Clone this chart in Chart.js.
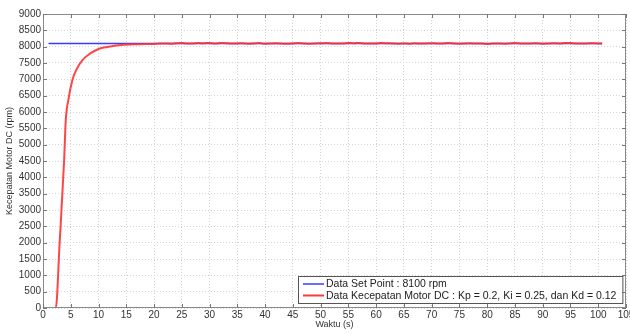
<!DOCTYPE html>
<html>
<head>
<meta charset="utf-8">
<script src="https://cdn.jsdelivr.net/npm/chart.js@4/dist/chart.umd.min.js"></script>
<style>
html,body{margin:0;padding:0;background:#fff;}
#wrap{width:630px;height:333px;position:relative;}
</style>
</head>
<body>
<div id="wrap"><canvas id="c" width="630" height="333"></canvas></div>
<script>
const setPointTime = [1.0, 100.7];
const setPointValue = [8100, 8100];
const motorTime = [1.2, 2.3, 3.0, 3.8, 4.1, 4.6, 5.3, 6.0, 7.1, 8.6, 10.0, 11.6, 14.0, 17.0, 20.0,
  21, 22, 23, 24, 25, 26, 27, 28, 29, 30, 31, 32, 33, 34, 35, 36, 37, 38, 39, 40,
  41, 42, 43, 44, 45, 46, 47, 48, 49, 50, 51, 52, 53, 54, 55, 56, 57, 58, 59, 60,
  61, 62, 63, 64, 65, 66, 67, 68, 69, 70, 71, 72, 73, 74, 75, 76, 77, 78, 79, 80,
  81, 82, 83, 84, 85, 86, 87, 88, 89, 90, 91, 92, 93, 94, 95, 96, 97, 98, 99, 100, 100.7];
const motorSpeed = [0, 0, 2000, 4500, 5750, 6400, 6980, 7290, 7590, 7800, 7930, 7990, 8050, 8075, 8085,
  8095, 8100, 8090, 8105, 8110, 8095, 8100, 8110, 8105, 8112, 8100, 8115, 8105, 8095, 8100, 8108, 8092, 8100, 8110, 8090,
  8100, 8105, 8095, 8088, 8100, 8112, 8100, 8090, 8100, 8105, 8110, 8100, 8095, 8100, 8112, 8105, 8115, 8100, 8095, 8100,
  8110, 8105, 8100, 8092, 8100, 8090, 8105, 8095, 8100, 8108, 8095, 8100, 8110, 8100, 8090, 8100, 8105, 8095, 8100, 8085,
  8095, 8100, 8092, 8100, 8110, 8100, 8095, 8100, 8105, 8090, 8100, 8105, 8100, 8115, 8110, 8100, 8095, 8100, 8105, 8100, 8100];
const xTicks = [0,5,10,15,20,25,30,35,40,45,50,55,60,65,70,75,80,85,90,95,100,105];
const yTicks = [0,500,1000,1500,2000,2500,3000,3500,4000,4500,5000,5500,6000,6500,7000,7500,8000,8500,9000];
const seriesLabels = ['Data Set Point : 8100 rpm', 'Data Kecepatan Motor DC : Kp = 0.2, Ki = 0.25, dan Kd = 0.12'];
const seriesColors = ['#3b3bff', '#ff3838'];

const FONT = "'Liberation Sans', Arial, sans-serif";

const framePlugin = {
  id: 'frame',
  afterDraw(chart) {
    const {ctx, chartArea: a, scales} = chart;
    ctx.save();
    ctx.strokeStyle = '#8a8a8a';
    ctx.lineWidth = 1;
    ctx.strokeRect(a.left + 0.5, a.top + 0.5, a.right - a.left - 1, a.bottom - a.top - 1);
    ctx.strokeStyle = '#777';
    ctx.beginPath();
    const L = 4;
    scales.x.ticks.forEach(t => {
      const px = Math.round(scales.x.getPixelForValue(t.value)) + 0.5;
      ctx.moveTo(px, a.bottom); ctx.lineTo(px, a.bottom - L);
      ctx.moveTo(px, a.top); ctx.lineTo(px, a.top + L);
    });
    scales.y.ticks.forEach(t => {
      const py = Math.round(scales.y.getPixelForValue(t.value)) + 0.5;
      ctx.moveTo(a.left, py); ctx.lineTo(a.left + L, py);
      ctx.moveTo(a.right, py); ctx.lineTo(a.right - L, py);
    });
    ctx.stroke();
    // legend
    ctx.font = '10.5px ' + FONT;
    const tw = Math.max(...seriesLabels.map(s => ctx.measureText(s).width));
    const w = tw + 34, h = 27;
    const bx = Math.round(a.right - 4 - w), by = Math.round(a.bottom - 5 - h);
    ctx.fillStyle = '#fff';
    ctx.fillRect(bx, by, w, h);
    ctx.strokeStyle = '#555';
    ctx.strokeRect(bx + 0.5, by + 0.5, w, h);
    seriesLabels.forEach((s, i) => {
      const y = by + 8 + i * 11.5;
      ctx.strokeStyle = seriesColors[i];
      ctx.lineWidth = i === 0 ? 1.5 : 2;
      ctx.beginPath(); ctx.moveTo(bx + 5, y); ctx.lineTo(bx + 26, y); ctx.stroke();
      ctx.fillStyle = '#222';
      ctx.textBaseline = 'middle';
      ctx.fillText(s, bx + 28, y + 0.5);
    });
    ctx.restore();
  }
};

new Chart(document.getElementById('c'), {
  type: 'scatter',
  data: {
    datasets: [
      {
        label: seriesLabels[0],
        data: setPointTime.map((t, i) => ({x: t, y: setPointValue[i]})),
        borderColor: seriesColors[0], borderWidth: 1.5, showLine: true, pointRadius: 0, order: 1
      },
      {
        label: seriesLabels[1],
        data: motorTime.map((t, i) => ({x: t, y: motorSpeed[i]})),
        borderColor: 'rgba(255,50,50,0.9)', borderWidth: 2, showLine: true, pointRadius: 0,
        cubicInterpolationMode: 'monotone', order: 0
      }
    ]
  },
  options: {
    responsive: false,
    animation: false,
    layout: {padding: {top: 14, right: 4, left: 0, bottom: 0}},
    plugins: {legend: {display: false}, tooltip: {enabled: false}},
    scales: {
      x: {
        type: 'linear', min: 0, max: 105,
        afterBuildTicks(s) { s.ticks = xTicks.map(v => ({value: v})); },
        ticks: {color: '#333', font: {size: 10, family: FONT}, padding: 1, maxRotation: 0, autoSkip: false,
          callback: v => String(v)},
        grid: {color: '#d4d4d4', drawTicks: false, lineWidth: 1},
        border: {display: false, dash: [1, 2]},
        title: {display: true, text: 'Waktu (s)', color: '#333', font: {size: 9, family: FONT}, padding: {top: 0, bottom: 3}},
        afterFit(s) { s.height = 25; s.paddingLeft = 0; s.paddingRight = 0; }
      },
      y: {
        type: 'linear', min: 0, max: 9000,
        afterBuildTicks(s) { s.ticks = yTicks.map(v => ({value: v})); },
        ticks: {color: '#333', font: {size: 10, family: FONT}, padding: 2, autoSkip: false,
          callback: v => String(v)},
        grid: {color: '#d4d4d4', drawTicks: false, lineWidth: 1},
        border: {display: false, dash: [1, 2]},
        title: {display: true, text: 'Kecepatan Motor DC (rpm)', color: '#333', font: {size: 9, family: FONT}, padding: {top: 4, bottom: 0}},
        afterFit(s) { s.width = 43; s.paddingTop = 0; s.paddingBottom = 0; }
      }
    }
  },
  plugins: [framePlugin]
});
</script>
</body>
</html>
